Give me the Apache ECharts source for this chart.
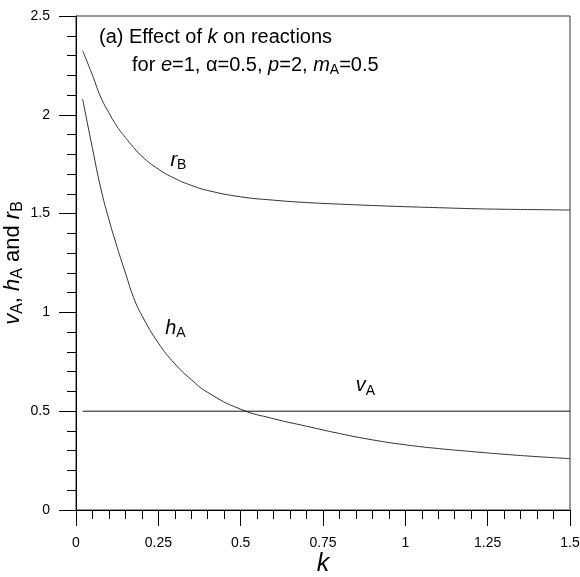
<!DOCTYPE html>
<html><head><meta charset="utf-8">
<script src="https://cdn.jsdelivr.net/npm/echarts@6/dist/echarts.min.js"></script>
<style>html,body{margin:0;padding:0;background:#fff}#c{width:580px;height:577px}</style>
</head><body><div id="c"></div>
<script>
const kValues = [0.02,0.05,0.075,0.1,0.125,0.15,0.175,0.2,0.25,0.3,0.35,0.4,0.5,0.6,0.7,0.8,0.9,1.0,1.1,1.2,1.3,1.4,1.5];
const rB = [2.325,2.20,2.09,2.01,1.94,1.885,1.835,1.79,1.725,1.678,1.643,1.617,1.585,1.568,1.556,1.548,1.541,1.535,1.53,1.525,1.522,1.52,1.518];
const hA = [2.08,1.83,1.63,1.47,1.33,1.20,1.075,0.985,0.845,0.74,0.66,0.595,0.51,0.462,0.424,0.387,0.355,0.330,0.311,0.296,0.282,0.27,0.26];
const vAk = [0.02,1.5];
const vA = [0.5,0.5];
const xTicks = [0,0.25,0.5,0.75,1,1.25,1.5];
const yTicks = [0,0.5,1,1.5,2,2.5];
const labelRB = [0.311,1.771];
const labelHA = [0.302,0.921];
const labelVA = [0.879,0.628];

const FONT = 'Liberation Sans, Arial, sans-serif';
const rich = {
  n:{fontSize:20,fontFamily:FONT,fontWeight:'normal',color:'#000'},
  i:{fontSize:20,fontFamily:FONT,fontWeight:'normal',fontStyle:'italic',color:'#000'},
  s:{fontSize:14,fontFamily:FONT,fontWeight:'normal',color:'#000',padding:[10,0,0,0]}
};
const yRich = {
  n:{fontSize:22,fontFamily:FONT,fontWeight:'normal',color:'#000'},
  i:{fontSize:22,fontFamily:FONT,fontWeight:'normal',fontStyle:'italic',color:'#000'},
  s:{fontSize:16,fontFamily:FONT,fontWeight:'normal',color:'#000',padding:[10,0,0,0]}
};
function zip(a,b){return a.map((v,i)=>[v,b[i]]);}
function lbl(coord, text){
  return {symbol:'circle',symbolSize:0,itemStyle:{color:'rgba(0,0,0,0)'},
    data:[{coord:coord}],
    label:{show:true,position:'inside',formatter:text,rich:rich}};
}
const chart = echarts.init(document.getElementById('c'),null,{renderer:'canvas'});
chart.setOption({
  animation:false,
  backgroundColor:'#fff',
  title:[
    {text:'{n|(a) Effect of }{i|k}{n| on reactions}',left:94,top:22,textStyle:{fontWeight:'normal',rich:rich}},
    {text:'{n|for }{i|e}{n|=1, α=0.5, }{i|p}{n|=2, }{i|m}{s|A}{n|=0.5}',left:127,top:48,textStyle:{fontWeight:'normal',rich:rich}}
  ],
  grid:{left:76,right:10,top:16,bottom:67,show:true,borderColor:'#333',borderWidth:1,containLabel:false,outerBoundsMode:'none'},
  xAxis:{type:'value',min:0,max:1.5,interval:0.25,
    axisLine:{lineStyle:{color:'#000',width:1}},
    axisTick:{length:16,lineStyle:{color:'#000'}},
    minorTick:{show:true,splitNumber:5,length:9,lineStyle:{color:'#000'}},
    splitLine:{show:false},
    axisLabel:{color:'#000',fontSize:14,fontFamily:FONT,margin:26,
      formatter:v=>{const t=xTicks.find(x=>Math.abs(x-v)<1e-9);return t===undefined?'':String(t);}},
    name:'k',nameLocation:'middle',nameGap:42,nameMoveOverlap:false,
    nameTextStyle:{fontSize:25,fontStyle:'italic',fontFamily:FONT,color:'#000'}
  },
  yAxis:{type:'value',min:0,max:2.5,interval:0.5,
    axisLine:{lineStyle:{color:'#000',width:1}},
    axisTick:{length:17,lineStyle:{color:'#000'}},
    minorTick:{show:true,splitNumber:5,length:9,lineStyle:{color:'#000'}},
    splitLine:{show:false},
    axisLabel:{color:'#000',fontSize:14,fontFamily:FONT,margin:26,
      formatter:v=>{const t=yTicks.find(x=>Math.abs(x-v)<1e-9);return t===undefined?'':String(t);}},
    name:'{i|v}{s|A}{n|, }{i|h}{s|A}{n| and }{i|r}{s|B}',nameLocation:'middle',nameGap:50,nameRotate:90,nameMoveOverlap:false,
    nameTextStyle:{rich:yRich}
  },
  series:[
    {type:'line',data:zip(kValues,rB),smooth:true,showSymbol:false,lineStyle:{color:'#333',width:1},
      markPoint:lbl(labelRB,'{i|r}{s|B}')},
    {type:'line',data:zip(kValues,hA),smooth:true,showSymbol:false,lineStyle:{color:'#333',width:1},
      markPoint:lbl(labelHA,'{i|h}{s|A}')},
    {type:'line',data:zip(vAk,vA),showSymbol:false,lineStyle:{color:'#111',width:1},
      markPoint:lbl(labelVA,'{i|v}{s|A}')}
  ]
});
</script></body></html>
